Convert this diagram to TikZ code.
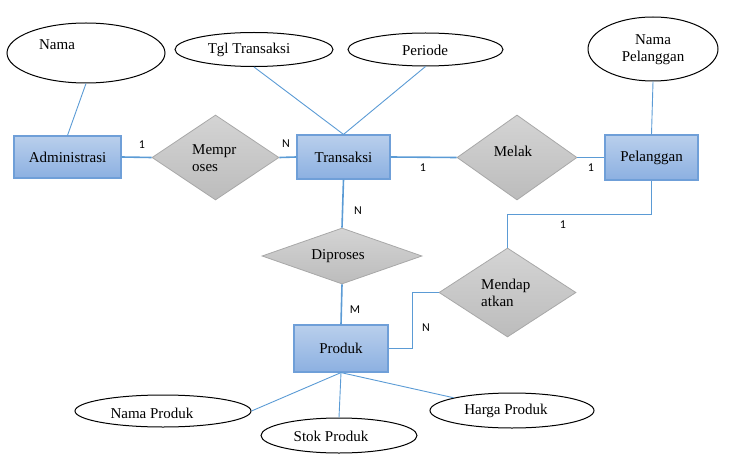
\documentclass[tikz,border=0pt]{standalone}
\usepackage{fontspec}
\setmainfont{Liberation Serif}
\newfontfamily\lblfont{Carlito}
\usetikzlibrary{shapes.geometric}
\definecolor{linkblue}{HTML}{5B9BD5}
\definecolor{entborder}{HTML}{6F9FD8}
\definecolor{enttop}{HTML}{B9CFEC}
\definecolor{entbot}{HTML}{8CB0E1}
\definecolor{reltop}{HTML}{D4D4D4}
\definecolor{relbot}{HTML}{BCBCBC}
\definecolor{relborder}{HTML}{A8A8A8}
\tikzset{
  entity/.style={rectangle, draw=entborder, line width=1.2pt, top color=enttop, bottom color=entbot, inner sep=0pt, font=\fontsize{15}{17}\selectfont},
  relation/.style={diamond, draw=relborder, line width=0.8pt, top color=reltop, bottom color=relbot, inner sep=0pt},
  attr/.style={ellipse, draw=black, line width=1pt, fill=white, inner sep=0pt},
  txt/.style={inner sep=0pt, font=\fontsize{15}{17}\selectfont, align=center},
  card/.style={inner sep=0pt, font=\lblfont\fontsize{12}{14}\selectfont},
  rel/.style={draw=linkblue, line width=1.6pt},
  att/.style={draw=linkblue, line width=0.9pt},
}
\begin{document}
\begin{tikzpicture}[x=1pt, y=-1pt]
\useasboundingbox (0,0) rectangle (735,473);
% entities
\node[entity, minimum width=107pt, minimum height=42pt] (adm) at (67.5,157) {Administrasi};
\node[entity, minimum width=93pt, minimum height=44pt] (trans) at (343.5,157) {Transaksi};
\node[entity, minimum width=93pt, minimum height=45pt] (pel) at (651.5,157.5) {Pelanggan};
\node[entity, minimum width=94pt, minimum height=47pt] (prod) at (341,348.5) {Produk};
% relations
\node[relation, minimum width=127pt, minimum height=85pt] (memp) at (215.5,157.5) {};
\node[relation, minimum width=120pt, minimum height=85pt] (melak) at (517,157.5) {};
\node[relation, minimum width=160pt, minimum height=56pt] (dip) at (342,256) {};
\node[relation, minimum width=137pt, minimum height=89pt] (mend) at (507.5,292.5) {};
% attributes
\node[attr, minimum width=158pt, minimum height=60pt] (nama) at (86,53) {};
\node[attr, minimum width=158pt, minimum height=34pt] (tgl) at (254,49.5) {};
\node[attr, minimum width=155pt, minimum height=33pt] (per) at (425.5,49.5) {};
\node[attr, minimum width=130pt, minimum height=64pt] (npel) at (653,49) {};
\node[attr, minimum width=176pt, minimum height=32pt] (nprod) at (163,411) {};
\node[attr, minimum width=156pt, minimum height=35pt] (stok) at (339,435.5) {};
\node[attr, minimum width=164pt, minimum height=35pt] (harga) at (512,410.5) {};
% texts
\node[txt] (tnama) at (57,45) {Nama};
\node[txt] (ttgl) at (249,50) {Tgl Transaksi};
\node[txt] (tper) at (425,50) {Periode};
\node[txt] (tnpel) at (653,50) {Nama\\Pelanggan};
\node[txt] (tnprod) at (152,413) {Nama Produk};
\node[txt] (tstok) at (331,436) {Stok Produk};
\node[txt] (tharga) at (506,411) {Harga Produk};
\node[txt, anchor=west, align=left] (tmemp) at (192,158.5) {Mempr\\oses};
\node[txt] (tmelak) at (513,151) {Melak};
\node[txt] (tdip) at (338,256) {Diproses};
\node[txt, anchor=west, align=left] (tmend) at (481,293) {Mendap\\atkan};
% relationship connectors
\draw[rel] (adm.east) -- (memp.west);
\draw[rel] (memp.east) -- (trans.west);
\draw[rel] (trans.east) -- (melak.west);
\draw[rel] (melak.east) -- (pel.west);
\draw[rel] (trans.south) -- (dip.north);
\draw[rel] (dip.south) -- (prod.north);
\draw[rel] (pel.south) -- ++(0,34) -| (mend.north);
\draw[rel] (mend.west) -- ++(-26,0) |- (prod.east);
% attribute connectors
\draw[att] (nama.south) -- (adm.north);
\draw[att] (tgl.south) -- (trans.north);
\draw[att] (per.south) -- (trans.north);
\draw[att] (npel.south) -- (pel.north);
\draw[att] (prod.south) -- (nprod.east);
\draw[att] (prod.south) -- (stok.north);
\draw[att] (prod.south) -- (harga.north west);
% cardinalities
\node[card] (c1) at (142,145) {1};
\node[card] (c2) at (286,144) {N};
\node[card] (c3) at (423,168) {1};
\node[card] (c4) at (591,168) {1};
\node[card] (c5) at (358,211) {N};
\node[card] (c6) at (355,310) {M};
\node[card] (c7) at (563,225) {1};
\node[card] (c8) at (426,328) {N};
\end{tikzpicture}
\end{document}
